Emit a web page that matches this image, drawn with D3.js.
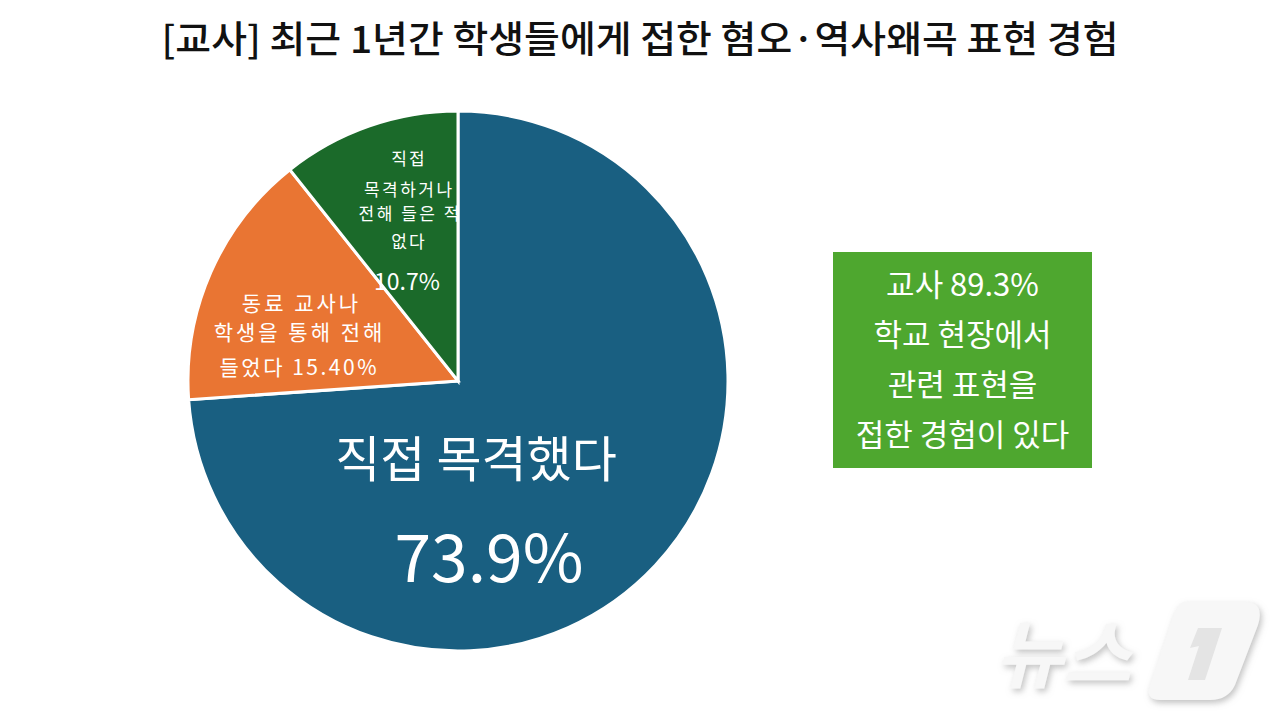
<!DOCTYPE html>
<html>
<head>
<meta charset="utf-8">
<script src="https://cdn.jsdelivr.net/npm/d3@7"></script>
<style>
  body { margin: 0; background: #fff; }
  svg text { font-family: "Noto Sans CJK KR", "Noto Sans", sans-serif; }
</style>
</head>
<body>
<div id="chart"></div>
<script>
// data from the survey
const categories = ["직접 목격했다", "동료 교사나 학생을 통해 전해 들었다", "직접 목격하거나 전해 들은 적 없다"];
const values = [73.9, 15.4, 10.7];
const colors = ["#195f81", "#e97533", "#1b6a2a"];
const titleText = "[교사] 최근 1년간 학생들에게 접한 혐오·역사왜곡 표현 경험";
const boxLines = ["교사 89.3%", "학교 현장에서", "관련 표현을", "접한 경험이 있다"];

const W = 1280, H = 720;
const cx = 458, cy = 381, radius = 270;

const svg = d3.select("#chart").append("svg")
  .attr("width", W).attr("height", H);

svg.append("rect").attr("width", W).attr("height", H).attr("fill", "#fff");

// title
svg.append("text")
  .attr("x", 640).attr("y", 53)
  .attr("text-anchor", "middle")
  .attr("font-size", 37).attr("font-weight", 500)
  .attr("textLength", 957).attr("lengthAdjust", "spacingAndGlyphs")
  .attr("fill", "#111")
  .text(titleText);

// pie, clockwise from 12 o'clock
const pie = d3.pie().sort(null).value(d => d);
const arc = d3.arc().innerRadius(0).outerRadius(radius);
const arcs = pie(values);

const pieG = svg.append("g").attr("transform", `translate(${cx}, ${cy})`);
pieG.selectAll("path.slice")
  .data(arcs)
  .enter().append("path")
  .attr("class", "slice")
  .attr("d", arc)
  .attr("fill", (d, i) => colors[i])
  .attr("stroke", "#fff")
  .attr("stroke-width", 3);

// slice labels (lines, relative to pie centre)
const labelSets = [
  [ { t: "직접 목격했다", dx: 18, dy: 74, size: 49, ls: 0 },
    { t: values[0].toFixed(1) + "%", dx: 31, dy: 172, size: 66, ls: 0 } ],
  [ { t: "동료 교사나", dx: -158, dy: -79, size: 21, ls: 3 },
    { t: "학생을 통해 전해", dx: -160, dy: -50, size: 21, ls: 3 },
    { t: "들었다 " + values[1].toFixed(2) + "%", dx: -160, dy: -15, size: 21, ls: 2.5 } ],
  [ { t: "직접", dx: -50, dy: -224, size: 17, ls: 2 },
    { t: "목격하거나", dx: -50, dy: -193, size: 17, ls: 2.5 },
    { t: "전해 들은 적", dx: -49, dy: -169, size: 17, ls: 2.5 },
    { t: "없다", dx: -50, dy: -141, size: 17, ls: 2 },
    { t: values[2].toFixed(1) + "%", dx: -51, dy: -101, size: 23, ls: 0 } ]
];

labelSets.forEach(set => {
  pieG.append("g").selectAll("text")
    .data(set)
    .enter().append("text")
    .attr("x", d => d.dx + d.ls / 2)
    .attr("y", d => d.dy)
    .attr("text-anchor", "middle")
    .attr("dominant-baseline", "central")
    .attr("font-size", d => d.size)
    .attr("letter-spacing", d => d.ls)
    .attr("fill", "#fff")
    .text(d => d.t);
});

// green summary box
const box = svg.append("g").attr("transform", "translate(833, 252)");
box.append("rect")
  .attr("width", 259).attr("height", 216)
  .attr("fill", "#4ea72f");
box.selectAll("text")
  .data(boxLines)
  .enter().append("text")
  .attr("x", 129.5)
  .attr("y", (d, i) => 30 + i * 50)
  .attr("text-anchor", "middle")
  .attr("dominant-baseline", "central")
  .attr("font-size", 31)
  .attr("fill", "#fff")
  .text(d => d);

// watermark
const defs = svg.append("defs");
const f = defs.append("filter").attr("id", "shadow").attr("x", "-20%").attr("y", "-20%")
  .attr("width", "140%").attr("height", "140%");
f.append("feDropShadow").attr("dx", 2).attr("dy", 3).attr("stdDeviation", 3)
  .attr("flood-color", "#999").attr("flood-opacity", 0.6);

const wm = svg.append("g").attr("filter", "url(#shadow)");
wm.append("text")
  .attr("x", 995).attr("y", 682)
  .attr("font-size", 74).attr("font-weight", 700)
  .attr("font-style", "italic")
  .attr("fill", "#f7f7f7")
  .text("뉴스");
wm.append("path")
  .attr("d", "M1185,602 L1245,602 Q1265,602 1258,625 L1235,685 Q1228,700 1210,700 L1160,700 Q1145,700 1150,685 L1172,620 Q1177,602 1185,602 Z")
  .attr("fill", "#f7f7f7");
wm.append("path")
  .attr("d", "M1198,628 L1222,628 L1205,680 L1188,680 L1199,646 L1190,648 Z")
  .attr("fill", "#e4e4e4");
</script>
</body>
</html>
